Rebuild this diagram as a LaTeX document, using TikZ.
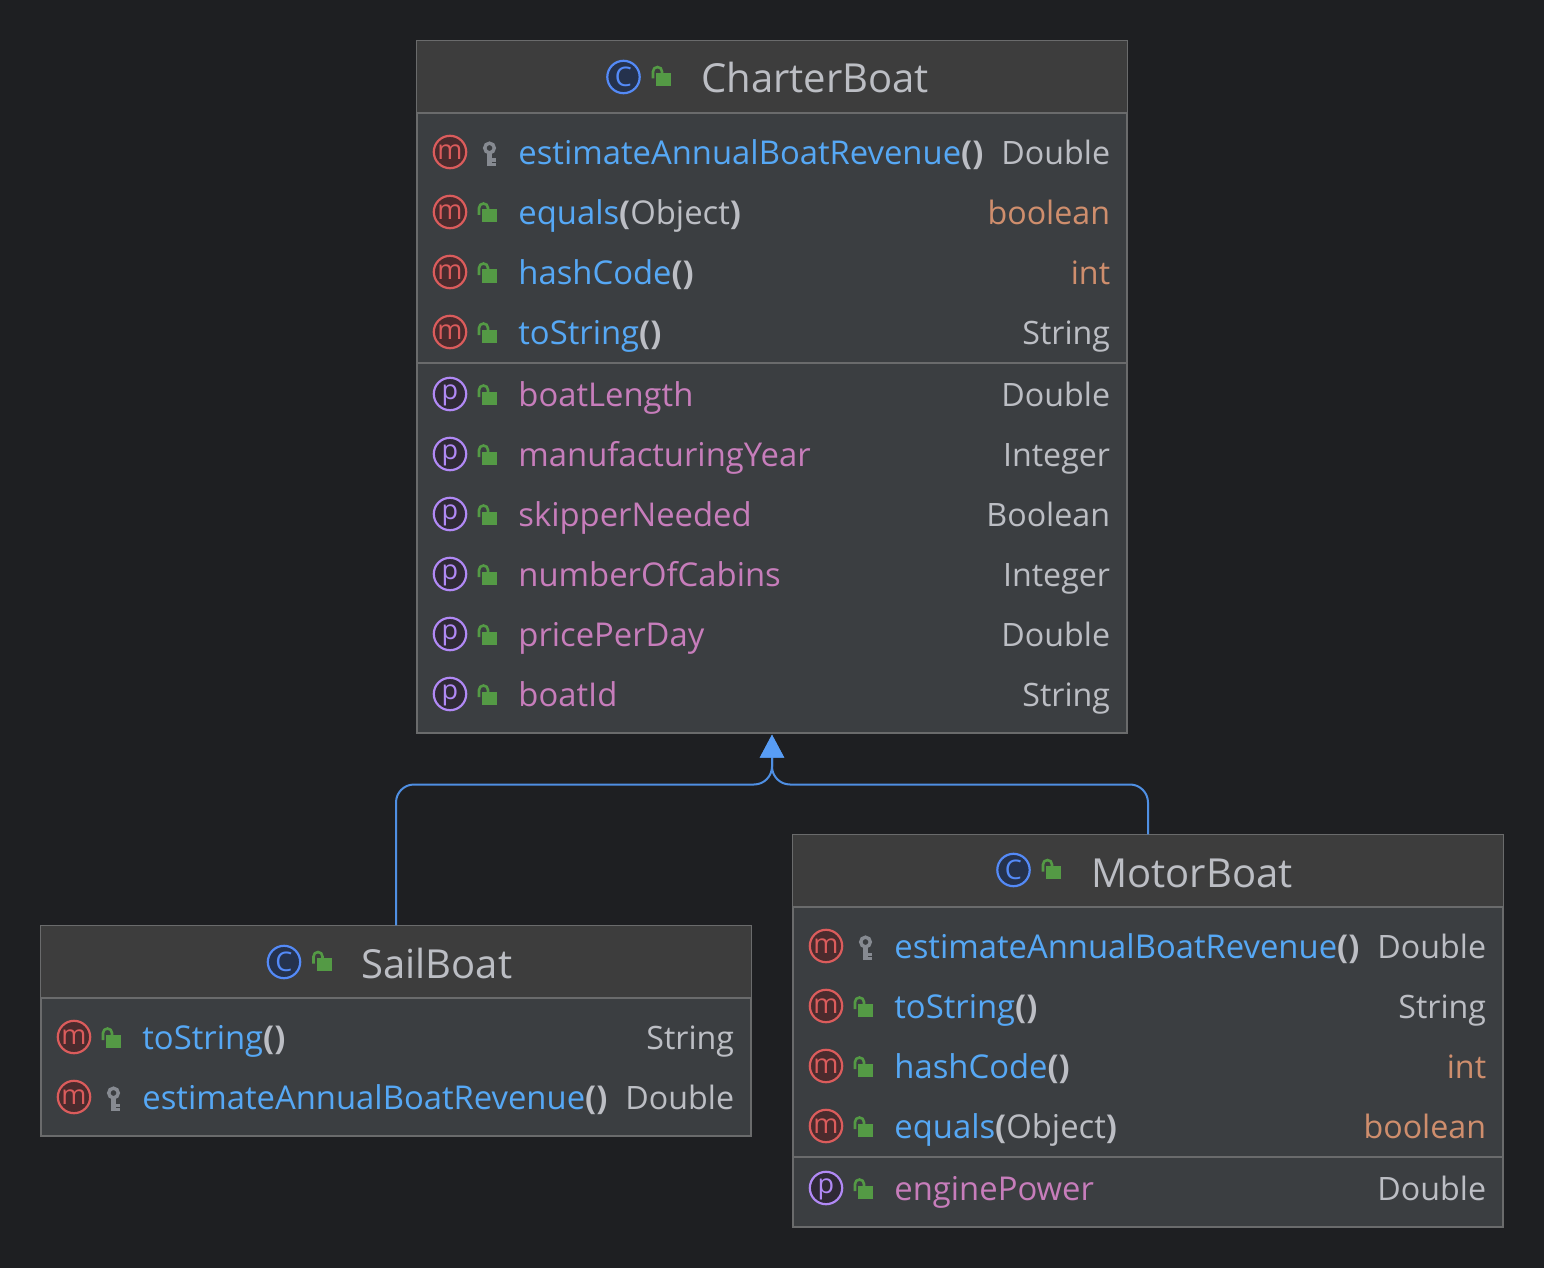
\documentclass[tikz,border=0pt]{standalone}
\usepackage{fontspec}
\setmainfont{Open Sans}
\usetikzlibrary{arrows.meta}
\definecolor{bgc}{HTML}{1E1F22}
\definecolor{headc}{HTML}{3D3D3D}
\definecolor{bodyc}{HTML}{3B3E41}
\definecolor{edgec}{HTML}{6A6B6C}
\definecolor{txtc}{HTML}{BCBEC4}
\definecolor{namec}{HTML}{56A8F5}
\definecolor{propc}{HTML}{C77DBB}
\definecolor{primc}{HTML}{CF8E6D}
\definecolor{linkc}{HTML}{4F8FE3}
\definecolor{tipc}{HTML}{589DF6}
\definecolor{lockc}{HTML}{549A45}
\definecolor{keyc}{HTML}{868A91}
\definecolor{mline}{HTML}{DB5C5C}
\definecolor{mfill}{HTML}{4A2B2D}
\definecolor{pline}{HTML}{B189F5}
\definecolor{pfill}{HTML}{2F2936}
\definecolor{cline}{HTML}{548AF7}
\definecolor{cfill}{HTML}{25324D}
\tikzset{
  x=0.5pt,y=-0.5pt,
  umlbox/.style={draw=edgec,line width=0.7pt,fill=bodyc,inner sep=0pt,rectangle},
  headband/.style={fill=headc},
  sepline/.style={draw=edgec,line width=0.8pt},
  titletext/.style={anchor=base west,inner sep=0pt,text=txtc,font=\fontsize{20}{22}\selectfont},
  labeltext/.style={anchor=base west,inner sep=0pt,text=txtc,font=\fontsize{16.4}{18}\selectfont},
  typetext/.style={anchor=base east,inner sep=0pt,text=txtc,font=\fontsize{16.1}{18}\selectfont},
  badge/.style={circle,inner sep=0pt,minimum size=16.2pt,line width=1.1pt,font=\fontsize{13.5}{14}\selectfont},
  mbadge/.style={badge,draw=mline,fill=mfill,text=mline},
  pbadge/.style={badge,draw=pline,fill=pfill,text=pline},
  cbadge/.style={badge,draw=cline,fill=cfill,text=cline},
  extends/.style={draw=linkc,line width=1pt,rounded corners=9pt,-{Triangle[length=11.5pt,width=12pt,color=tipc]},shorten >=0.5pt},
  pics/publock/.style={code={
    \fill[lockc] (-7.5,-6.5) rectangle (7.5,6.5);
    \draw[lockc,line width=1.3pt] (-10.5,-1) -- (-10.5,-8) arc[start angle=180,end angle=360,radius=4.5] -- (-1.5,-6);
  }},
  pics/pkgkey/.style={code={
    \draw[keyc,line width=1.7pt] (0,-8) circle[radius=4.8];
    \fill[keyc] (-2.5,-3) rectangle (2.5,10);
    \fill[keyc] (0,2.5) rectangle (6,6);
    \fill[keyc] (0,7) rectangle (6,10);
  }},
}
% id, box left, row centre y, m|p, publock|pkgkey, label, type
\newcommand\memberrow[7]{%
  \node[#4badge] (#1i) at ({#2+33},#3) {\raisebox{\csname glyphlift#4\endcsname}[0pt][0pt]{#4}};
  \pic at ({#2+72.5},{#3+4}) {#5};
  \node[labeltext] (#1l) at ({#2+101},{#3+12.5}) {#6};
  \node[typetext] (#1t) at ({#2+693.5},{#3+12.5}) {#7};
}
\newcommand\glyphliftm{-3.7pt}
\newcommand\glyphliftp{-2.5pt}
\newcommand\fn[2]{\textcolor{namec}{#1}\textbf{(}#2\textbf{)}}
\newcommand\prop[1]{\textcolor{propc}{#1}}
\newcommand\prim[1]{\textcolor{primc}{#1}}
\begin{document}
\begin{tikzpicture}
\path[use as bounding box,fill=bgc] (0,0) rectangle (1544,1268);

% CharterBoat
\node[umlbox,minimum width=355pt,minimum height=346pt] (charter) at (772,387) {};
\fill[headband] (charter.north west) rectangle ([yshift=-36.25pt]charter.north east);
\draw[sepline] ([yshift=-36.25pt]charter.north west) -- ([yshift=-36.25pt]charter.north east);
\draw[sepline] ([yshift=-161.25pt]charter.north west) -- ([yshift=-161.25pt]charter.north east);
\draw[draw=edgec,line width=0.7pt] (charter.north west) rectangle (charter.south east);
\node[cbadge] (charterc) at (623.5,77) {C};
\pic at (663.5,79.5) {publock};
\node[titletext] (chartert) at (701,93) {CharterBoat};
\memberrow{ca}{417}{152}{m}{pkgkey}{\fn{estimateAnnualBoatRevenue}{}}{Double}
\memberrow{cb}{417}{212}{m}{publock}{\fn{equals}{Object}}{\prim{boolean}}
\memberrow{cc}{417}{272}{m}{publock}{\fn{hashCode}{}}{\prim{int}}
\memberrow{cd}{417}{332}{m}{publock}{\fn{toString}{}}{String}
\memberrow{ce}{417}{394}{p}{publock}{\prop{boatLength}}{Double}
\memberrow{cf}{417}{454}{p}{publock}{\prop{manufacturingYear}}{Integer}
\memberrow{cg}{417}{514}{p}{publock}{\prop{skipperNeeded}}{Boolean}
\memberrow{ch}{417}{574}{p}{publock}{\prop{numberOfCabins}}{Integer}
\memberrow{ci}{417}{634}{p}{publock}{\prop{pricePerDay}}{Double}
\memberrow{cj}{417}{694}{p}{publock}{\prop{boatId}}{String}

% SailBoat
\node[umlbox,minimum width=355pt,minimum height=105pt] (sail) at (396,1031) {};
\fill[headband] (sail.north west) rectangle ([yshift=-36.25pt]sail.north east);
\draw[sepline] ([yshift=-36.25pt]sail.north west) -- ([yshift=-36.25pt]sail.north east);
\draw[draw=edgec,line width=0.7pt] (sail.north west) rectangle (sail.south east);
\node[cbadge] (sailc) at (284,962) {C};
\pic at (324,964.5) {publock};
\node[titletext] (sailt) at (361,978) {SailBoat};
\memberrow{sa}{41}{1037}{m}{publock}{\fn{toString}{}}{String}
\memberrow{sb}{41}{1097}{m}{pkgkey}{\fn{estimateAnnualBoatRevenue}{}}{Double}

% MotorBoat
\node[umlbox,minimum width=355pt,minimum height=196pt] (motor) at (1148,1031) {};
\fill[headband] (motor.north west) rectangle ([yshift=-36.25pt]motor.north east);
\draw[sepline] ([yshift=-36.25pt]motor.north west) -- ([yshift=-36.25pt]motor.north east);
\draw[sepline] ([yshift=-161.25pt]motor.north west) -- ([yshift=-161.25pt]motor.north east);
\draw[draw=edgec,line width=0.7pt] (motor.north west) rectangle (motor.south east);
\node[cbadge] (motorc) at (1013.5,870) {C};
\pic at (1053.5,872.5) {publock};
\node[titletext] (motort) at (1091,887) {MotorBoat};
\memberrow{ma}{793}{946}{m}{pkgkey}{\fn{estimateAnnualBoatRevenue}{}}{Double}
\memberrow{mb}{793}{1006}{m}{publock}{\fn{toString}{}}{String}
\memberrow{mc}{793}{1066}{m}{publock}{\fn{hashCode}{}}{\prim{int}}
\memberrow{md}{793}{1126}{m}{publock}{\fn{equals}{Object}}{\prim{boolean}}
\memberrow{me}{793}{1188}{p}{publock}{\prop{enginePower}}{Double}

% Inheritance connectors
\coordinate (bus) at (772,784.5);
\draw[extends] (sail.north) -- (sail.north |- bus) -- (bus) -- (charter.south);
\draw[extends] (motor.north) -- (motor.north |- bus) -- (bus) -- (charter.south);
\end{tikzpicture}
\end{document}
